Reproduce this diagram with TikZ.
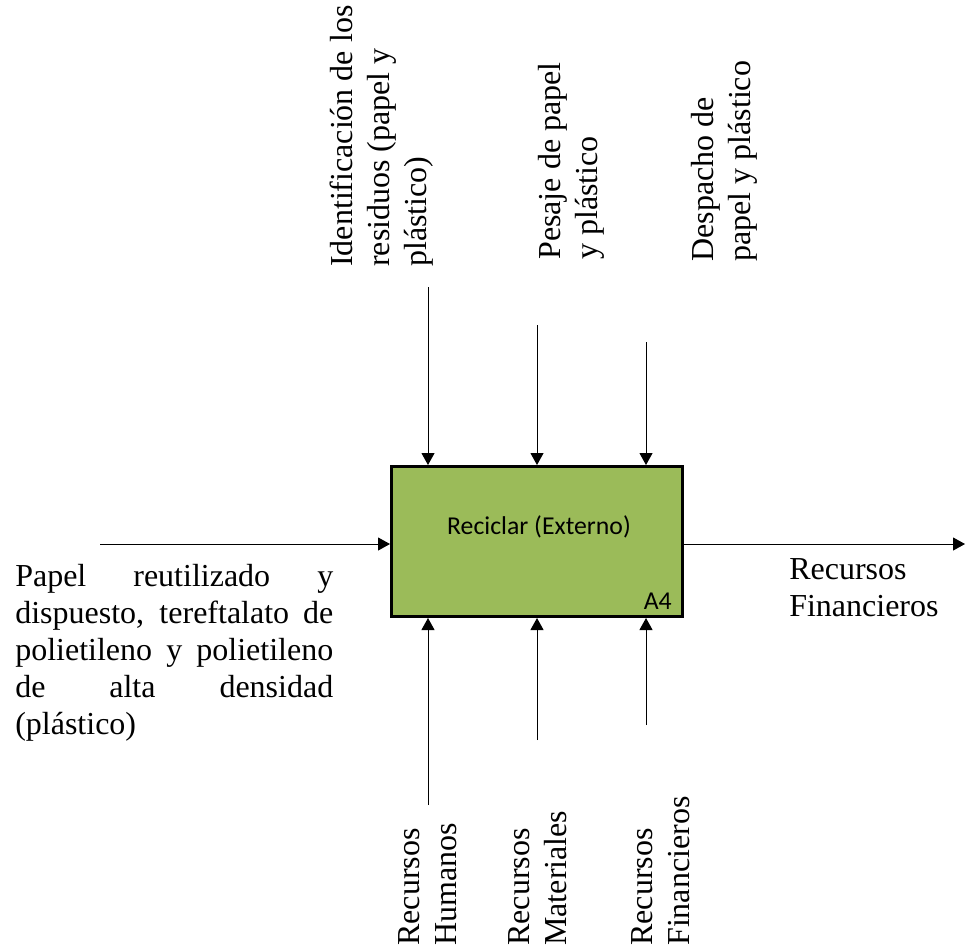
\documentclass[tikz,border=0pt]{standalone}
\usepackage{fontspec}
\setmainfont{Liberation Serif}
\newfontfamily\calibri{Carlito}
\usepackage{tikz}
\usetikzlibrary{arrows.meta}

\definecolor{verdeA}{HTML}{9BBB59}
\newcommand{\tnr}{\fontsize{24}{27.75}\selectfont}
\newcommand{\linea}[1]{\makebox[238.5pt][s]{#1}}

\begin{document}
\begin{tikzpicture}[x=0.75pt, y=-0.75pt,
		flecha/.style={-{Triangle[length=9pt,width=9.75pt]}, line width=0.75pt},
		caja/.style={draw, line width=2.25pt, fill=verdeA, minimum width=218.25pt, minimum height=112.5pt, inner sep=0pt},
		texto/.style={font=\tnr, inner sep=0pt, align=left},
		vertical/.style={texto, rotate=90, anchor=north west}]
		\useasboundingbox (0,0) rectangle (966,947);
		
		% actividad
		\node[caja] (proc) at (537,541.5) {};
		\node[font=\calibri\fontsize{19.3}{23}\selectfont] (nombre) at (539,527) {Reciclar (Externo)};
		\node[font=\calibri\fontsize{19.3}{23}\selectfont, anchor=base east, inner sep=0pt] (codigo) at (672,609) {A4};
		
		% controles
		\coordinate (c1) at (428,287);
		\coordinate (c2) at (537,325);
		\coordinate (c3) at (646,342);
		\draw[flecha] (c1) -- (c1 |- proc.north);
		\draw[flecha] (c2) -- (c2 |- proc.north);
		\draw[flecha] (c3) -- (c3 |- proc.north);
		
		% mecanismos
		\coordinate (m1) at (428,805);
		\coordinate (m2) at (537,740);
		\coordinate (m3) at (646,725);
		\draw[flecha] (m1) -- (m1 |- proc.south);
		\draw[flecha] (m2) -- (m2 |- proc.south);
		\draw[flecha] (m3) -- (m3 |- proc.south);
		
		% entrada y salida
		\coordinate (e1) at (100,544);
		\coordinate (s1) at (965,544);
		\draw[flecha] (e1) -- (e1 -| proc.west);
		\draw[flecha] (proc.east |- s1) -- (s1);
		
		\begin{scope}
			\node[texto, anchor=north west] (entrada) at (15,564) {\linea{Papel reutilizado y}\\ \linea{dispuesto, tereftalato de}\\ \linea{polietileno y polietileno}\\ \linea{de alta densidad}\\ (plástico)};
			\node[texto, anchor=north west] (salida) at (789,558) {Recursos\\ Financieros};
			
			\node[vertical] (ctrl1) at (330,267) {Identificación de los\\ residuos (papel y\\ plástico)};
			\node[vertical] (ctrl2) at (538,260) {Pesaje de papel\\ y plástico};
			\node[vertical] (ctrl3) at (691,262) {Despacho de\\ papel y plástico};
			
			\node[vertical] (mec1) at (398,946) {Recursos\\ Humanos};
			\node[vertical] (mec2) at (508,946) {Recursos\\ Materiales};
			\node[vertical] (mec3) at (631,946) {Recursos\\ Financieros};
		\end{scope}
	\end{tikzpicture}
\end{document}
